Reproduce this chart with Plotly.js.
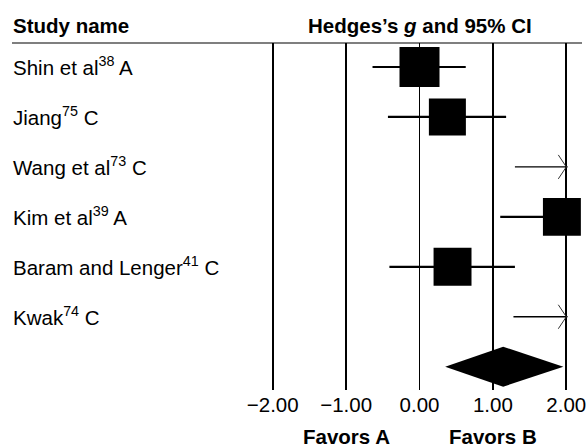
<!DOCTYPE html>
<html>
<head>
<meta charset="utf-8">
<script src="https://cdn.plot.ly/plotly-3.0.1.min.js"></script>
<style>html,body{margin:0;padding:0;background:#fff;}#chart{width:588px;height:446px;}</style>
</head>
<body>
<div id="chart"></div>
<script>
// ---- data ----
const studies = ['Shin et al<sup>38</sup> A', 'Jiang<sup>75</sup> C', 'Wang et al<sup>73</sup> C',
                 'Kim et al<sup>39</sup> A', 'Baram and Lenger<sup>41</sup> C', 'Kwak<sup>74</sup> C'];
const hedgesG = [0.00, 0.38, 2.60, 1.94, 0.45, 2.55];
const ciLow   = [-0.64, -0.43, 1.30, 1.10, -0.41, 1.28];
const ciHigh  = [0.63, 1.18, 3.90, 2.78, 1.30, 3.82];
const weightPct = [18.0, 15.4, 17.1, 16.2, 16.2, 17.1];
const summaryG = 1.14, summaryLow = 0.35, summaryHigh = 1.96;
const tickVals = [-2, -1, 0, 1, 2];
const favorsLabels = ['Favors A', 'Favors B'];
const favorsAt = [-1, 1];

// ---- layout constants ----
const FONT = 'Liberation Sans, Arial, sans-serif';
const W = 588, H = 446;
const mL = 12, mR = 20, mT = 43, mB = 56;
const pxPerUnit = 73.4, zeroPx = 419.5;
const xMin = (mL - zeroPx) / pxPerUnit, xMax = (W - mR - zeroPx) / pxPerUnit;
const rowPx = 49.95, firstRowPx = 67;
const yTop = -(firstRowPx - mT) / rowPx, yBot = (H - mB - firstRowPx) / rowPx;
const axMin = tickVals[0], axMax = tickVals[tickVals.length - 1];
const sizeK = 40 / Math.sqrt(18.0);

const rows = studies.map((_, i) => i);
const inRange = rows.filter(i => hedgesG[i] <= axMax && hedgesG[i] >= axMin);
const outRange = rows.filter(i => !(hedgesG[i] <= axMax && hedgesG[i] >= axMin));
const arrowRows = outRange.filter(i => ciHigh[i] > axMax);

function segs(idx) {
  const x = [], y = [];
  idx.forEach(i => { x.push(Math.max(ciLow[i], axMin), Math.min(ciHigh[i], axMax), null); y.push(i, i, null); });
  return {x, y};
}
const thick = segs(inRange), thin = segs(outRange);

const traces = [
  {type: 'scatter', mode: 'lines', x: thick.x, y: thick.y, line: {color: '#000', width: 2.2}, hoverinfo: 'skip'},
  {type: 'scatter', mode: 'lines', x: thin.x, y: thin.y, line: {color: '#000', width: 1.3}, hoverinfo: 'skip'},
  {type: 'scatter', mode: 'markers', x: arrowRows.map(() => axMax), y: arrowRows,
   marker: {symbol: 'y-right', size: 20, color: '#000', opacity: 1, line: {color: '#333', width: 1}}, cliponaxis: true, hoverinfo: 'skip'},
  {type: 'scatter', mode: 'markers', x: inRange.map(i => hedgesG[i]), y: inRange,
   marker: {symbol: 'square', size: inRange.map(i => Math.sqrt(weightPct[i]) * sizeK), color: '#000', opacity: 1, line: {width: 0}},
   cliponaxis: false, hoverinfo: 'skip'},
  {type: 'scatter', mode: 'lines', fill: 'toself', fillcolor: '#000',
   x: [summaryLow, summaryG, summaryHigh, summaryG, summaryLow],
   y: [studies.length, studies.length - 0.4, studies.length, studies.length + 0.4, studies.length],
   line: {color: '#000', width: 0}, cliponaxis: false, hoverinfo: 'skip'}
];

const annotations = [
  {text: '<b>Study name</b>', xref: 'paper', x: 0, xanchor: 'left', xshift: -1.5, yref: 'paper', y: 1 + (mT - 25.5) / (H - mT - mB), yanchor: 'middle',
   showarrow: false, font: {family: FONT, size: 20.5, color: '#000'}},
  {text: '<b>Hedges\u2019s <i>g</i> and 95% CI</b>', xref: 'x', x: 0, xanchor: 'center', yref: 'paper', y: 1 + (mT - 25.5) / (H - mT - mB), yanchor: 'middle',
   showarrow: false, font: {family: FONT, size: 20.5, color: '#000'}}
];
studies.forEach((s, i) => annotations.push({text: s, xref: 'paper', x: 0, xanchor: 'left', xshift: -1.5, yref: 'y', y: i, yanchor: 'middle',
  yshift: 1, showarrow: false, font: {family: FONT, size: 20.5, color: '#000'}}));
favorsLabels.forEach((s, i) => annotations.push({text: '<b>' + s + '</b>', xref: 'x', x: favorsAt[i], xanchor: 'center',
  yref: 'paper', y: -(436.5 - (H - mB)) / (H - mT - mB), yanchor: 'middle', showarrow: false, font: {family: FONT, size: 20.5, color: '#000'}}));

const layout = {
  width: W, height: H, margin: {l: mL, r: mR, t: mT, b: mB, pad: 0},
  paper_bgcolor: '#fff', plot_bgcolor: '#fff', showlegend: false, hovermode: false,
  xaxis: {range: [xMin, xMax], tickmode: 'array', tickvals: tickVals, tickformat: '.2f',
          showgrid: true, gridcolor: '#000', gridwidth: 1.6, zeroline: false, showline: false,
          ticks: '', tickfont: {family: FONT, size: 20.5, color: '#000'}, fixedrange: true},
  yaxis: {range: [yBot, yTop], showgrid: false, zeroline: false, showline: false, showticklabels: false, ticks: '', fixedrange: true},
  shapes: [{type: 'line', xref: 'paper', yref: 'paper', x0: 0, x1: (582 - mL) / (W - mL - mR), y0: 1, y1: 1,
            line: {color: '#000', width: 1.2}}],
  annotations: annotations,
  font: {family: FONT, color: '#000'}
};

Plotly.newPlot('chart', traces, layout, {staticPlot: true, displayModeBar: false});
</script>
</body>
</html>
